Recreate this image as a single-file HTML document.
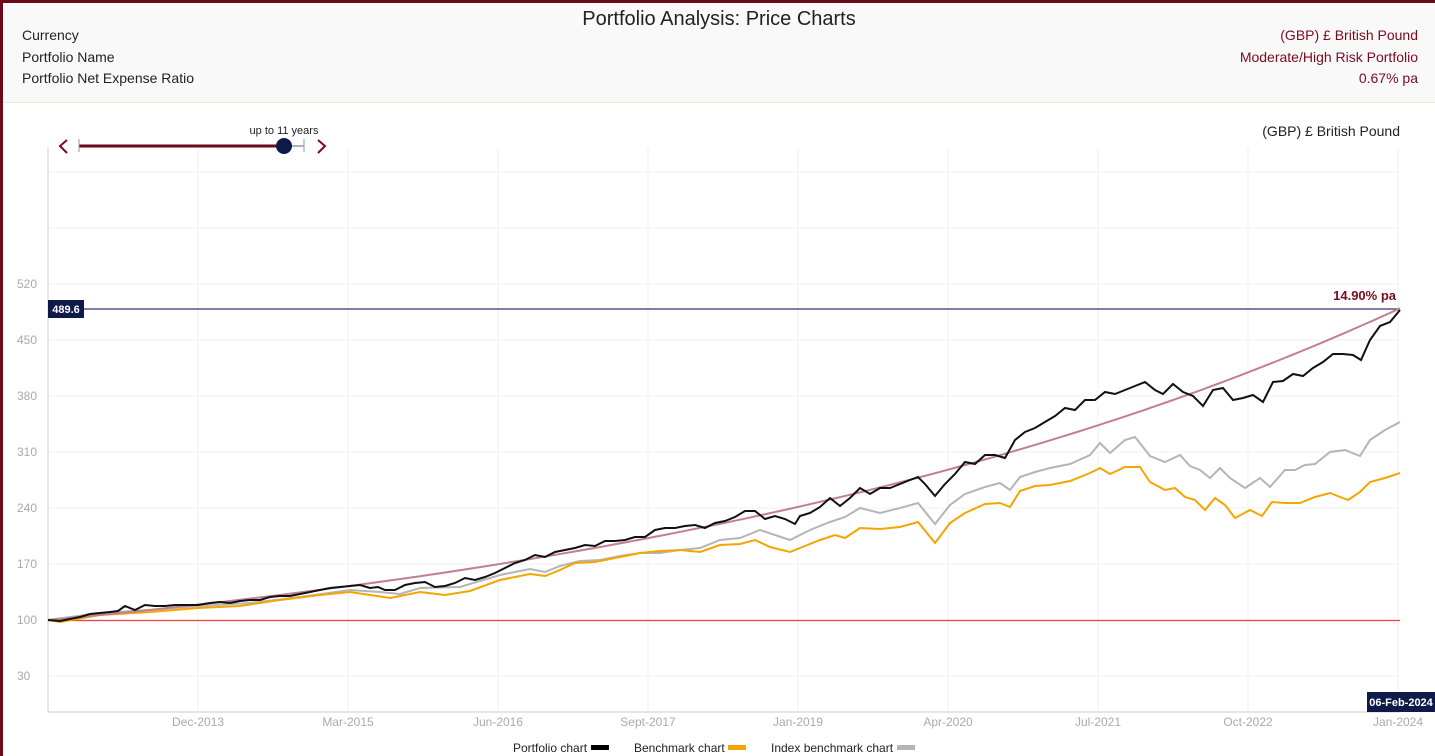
<!DOCTYPE html>
<html><head><meta charset="utf-8"><style>
body{margin:0;width:1435px;height:756px;overflow:hidden;background:#fff;font-family:"Liberation Sans",Arial,sans-serif;position:relative}
.hdr{position:absolute;left:3px;top:3px;width:1432px;height:99px;background:#f9f9f9;border-bottom:1px solid #efe8cc}
.t{position:absolute;font-size:14px;color:#222}
.r{position:absolute;right:17px;font-size:14px;color:#7a0a1e;text-align:right}
</style></head><body>
<div style="position:absolute;left:0;top:0;width:1435px;height:3px;background:#6a0a1a"></div>
<div style="position:absolute;left:0;top:0;width:3px;height:756px;background:#6a0a1a"></div>
<div class="hdr">
<div style="position:absolute;left:0;width:1432px;top:5px;text-align:center;font-size:20px;color:#222">Portfolio Analysis: Price Charts</div>
<div class="t" style="left:19px;top:24px">Currency</div>
<div class="t" style="left:19px;top:46px">Portfolio Name</div>
<div class="t" style="left:19px;top:67px">Portfolio Net Expense Ratio</div>
<div class="r" style="top:24px">(GBP) £ British Pound</div>
<div class="r" style="top:46px">Moderate/High Risk Portfolio</div>
<div class="r" style="top:67px">0.67% pa</div>
</div>
<svg id="s" width="1435" height="756" style="position:absolute;left:0;top:0" font-family="Liberation Sans, Arial, sans-serif"></svg>
<script>
var s='';
// grid
var ys=[676,620,564,508,452,396,340,284,228,172];
ys.forEach(function(y){s+='<line x1="48" x2="1400" y1="'+y+'" y2="'+y+'" stroke="#f0f0f0"/>';});
[198,348,498,648,798,948,1098,1248,1398].forEach(function(x){s+='<line x1="'+x+'" x2="'+x+'" y1="148" y2="712" stroke="#f0f0f0"/>';});
s+='<line x1="48" x2="48" y1="148" y2="712" stroke="#ccc"/><line x1="48" x2="1400" y1="712" y2="712" stroke="#ccc"/>';
var lab=[[30,676],[100,620],[170,564],[240,508],[310,452],[380,396],[450,340],[520,284]];
lab.forEach(function(l){s+='<text x="17" y="'+(l[1]+4)+'" font-size="12" fill="#aaa">'+l[0]+'</text>';});
var xl=[['Dec-2013',198],['Mar-2015',348],['Jun-2016',498],['Sept-2017',648],['Jan-2019',798],['Apr-2020',948],['Jul-2021',1098],['Oct-2022',1248],['Jan-2024',1398]];
xl.forEach(function(l){s+='<text x="'+l[1]+'" y="726" font-size="12" fill="#aaa" text-anchor="middle">'+l[0]+'</text>';});
s+='<line x1="48" x2="1400" y1="620.5" y2="620.5" stroke="#f04040" stroke-width="1.3"/>';
s+='<line x1="48" x2="1400" y1="309" y2="309" stroke="#2a3570" stroke-width="1.2"/>';
var g="48,620 100,613 150,610 198,606 250,603 300,597 350,590 380,592 400,594 420,588 460,587 500,575 530,569 545,572 560,566 580,561 600,560 620,556 640,553 660,553 680,550 700,548 720,540 740,538 760,530 775,535 790,540 810,530 830,522 845,517 860,508 880,513 900,508 918,503 935,524 950,505 965,494 985,487 1000,483 1010,490 1020,477 1035,472 1050,468 1070,464 1090,455 1100,443 1110,453 1125,440 1135,437 1150,456 1165,462 1180,455 1190,466 1200,470 1210,478 1220,468 1230,478 1245,488 1260,478 1270,487 1285,470 1295,470 1305,465 1315,464 1330,452 1345,450 1360,456 1370,440 1385,430 1400,422";
var o="48,620 60,622 100,615 150,612 198,608 240,606 280,600 320,595 350,592 370,595 390,598 420,592 445,595 470,591 500,580 530,574 545,576 560,570 575,563 595,562 615,558 640,553 660,551 680,550 700,552 720,545 740,544 755,540 770,547 790,552 800,548 820,540 835,535 845,538 860,528 880,529 900,527 918,522 935,543 950,523 965,513 985,504 1000,503 1010,507 1020,491 1035,486 1050,485 1070,481 1090,473 1100,468 1110,474 1125,467 1140,467 1150,482 1165,490 1175,488 1185,497 1195,500 1205,510 1215,498 1225,505 1235,518 1250,510 1262,516 1272,502 1285,503 1300,503 1315,497 1330,493 1348,500 1360,492 1370,482 1385,478 1400,473";
var b="48,620 60,621 70,619 80,617 90,614 100,613 110,612 118,611 125,606 135,610 145,605 155,606 165,606 175,605 185,605 198,605 210,603 220,602 230,603 240,601 250,600 260,600 270,597 280,596 290,596 300,594 310,592 320,590 330,588 340,587 350,586 360,585 370,588 378,587 385,590 395,590 405,585 415,583 425,582 435,587 445,586 455,583 465,578 475,580 485,577 495,573 505,568 515,563 525,560 535,555 545,557 555,552 565,550 575,548 585,545 595,546 605,541 615,541 625,540 635,537 645,537 655,530 665,528 675,528 685,526 695,525 705,528 715,523 725,521 735,517 745,511 755,511 765,519 775,516 785,519 795,524 800,516 810,513 820,507 830,498 840,506 850,498 860,488 870,494 880,488 890,488 900,484 910,480 918,477 925,484 935,496 945,484 955,474 965,462 975,464 985,455 995,455 1005,458 1015,440 1025,432 1035,428 1045,422 1055,416 1065,408 1075,410 1085,400 1095,400 1105,392 1115,394 1125,390 1135,386 1145,382 1155,390 1163,394 1173,384 1183,392 1193,396 1203,406 1213,390 1223,388 1233,400 1243,398 1253,395 1263,402 1273,382 1283,381 1293,374 1303,376 1313,368 1323,362 1333,354 1343,354 1353,355 1361,360 1370,340 1380,326 1390,322 1400,310";
s+='<polyline points="'+g+'" fill="none" stroke="#b5b5b5" stroke-width="2"/>';
s+='<polyline points="'+o+'" fill="none" stroke="#f5a500" stroke-width="2"/>';
var tp=[];for(var i=0;i<=100;i++){var t=i/100;var v=100*Math.pow(4.896,t);tp.push((48+1352*t).toFixed(1)+','+(620-(v-100)*0.8).toFixed(1));}
s+='<polyline points="'+tp.join(' ')+'" fill="none" stroke="#c08090" stroke-width="2"/>';
s+='<polyline points="'+b+'" fill="none" stroke="#111" stroke-width="2"/>';
s+='<rect x="48" y="300" width="36" height="18" fill="#0d1a4a"/><text x="66" y="313" font-size="11" font-weight="bold" fill="#fff" text-anchor="middle">489.6</text>';
s+='<text x="1396" y="300" font-size="13" font-weight="bold" fill="#7a0a1e" text-anchor="end">14.90% pa</text>';
s+='<rect x="1367" y="692" width="68" height="20" fill="#0d1a4a"/><text x="1401" y="706" font-size="11" font-weight="bold" fill="#fff" text-anchor="middle">06-Feb-2024</text>';
s+='<text x="1400" y="136" font-size="14" fill="#222" text-anchor="end">(GBP) £ British Pound</text>';
// slider
s+='<polyline points="67,140 60,146 67,153" fill="none" stroke="#7a0a1e" stroke-width="2"/>';
s+='<polyline points="318,140 325,146 318,153" fill="none" stroke="#7a0a1e" stroke-width="2"/>';
s+='<line x1="79" x2="304" y1="146" y2="146" stroke="#666"/><line x1="79" x2="284" y1="146" y2="146" stroke="#6a0a1a" stroke-width="3"/>';
s+='<line x1="79" x2="79" y1="139" y2="152" stroke="#999"/><line x1="304" x2="304" y1="139" y2="152" stroke="#999"/>';
s+='<circle cx="284" cy="146" r="8" fill="#0d1a4a"/>';
s+='<text x="284" y="134" font-size="11" fill="#222" text-anchor="middle">up to 11 years</text>';
// legend
var lg=[['Portfolio chart',513,591,'#000'],['Benchmark chart',634,728,'#f5a500'],['Index benchmark chart',771,897,'#b5b5b5']];
lg.forEach(function(l){s+='<text x="'+l[1]+'" y="752" font-size="12" fill="#222">'+l[0]+'</text><rect x="'+l[2]+'" y="745" width="18" height="5" fill="'+l[3]+'"/>';});
document.getElementById('s').innerHTML=s;
</script>
</body></html>
